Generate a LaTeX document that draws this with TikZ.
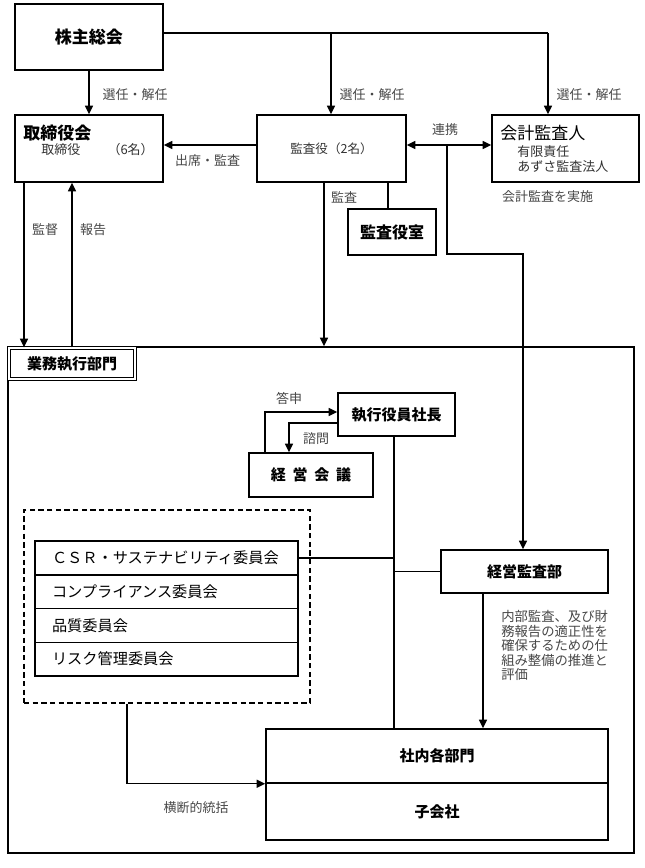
\documentclass[tikz,border=0pt]{standalone}
\usepackage{fontspec}
\setmainfont{Noto Sans CJK JP}
\usetikzlibrary{arrows.meta}
\begin{document}
\begin{tikzpicture}[x=0.75pt,y=-0.75pt,
  box/.style={draw,line width=1.1pt,inner sep=0pt,fill=white},
  conn/.style={line width=1.1pt},
  arr/.style={conn,-{Triangle[length=6.5pt,width=6pt]}},
  biarr/.style={conn,{Triangle[length=6.5pt,width=6pt]}-{Triangle[length=6.5pt,width=6pt]}},
  lbl/.style={inner sep=0pt,text=black!72,font=\fontsize{9.75pt}{11pt}\selectfont},
  bigtitle/.style={inner sep=0pt,font=\fontsize{12.75pt}{14pt}\selectfont\bfseries},
  midtitle/.style={font=\fontsize{11.25pt}{13pt}\selectfont\bfseries},
  committee/.style={draw,line width=1.1pt,inner ysep=0pt,inner xsep=12.75pt,
    minimum height=25.3pt,text width=171.75pt,align=left,
    font=\fontsize{11.4pt}{13pt}\selectfont}
]
\useasboundingbox[fill=white] (0,0) rectangle (645,868);

% top level boxes
\node[box,minimum width=111pt,minimum height=49.5pt,bigtitle] (kabu) at (89,37) {株主総会};
\node[box,minimum width=111pt,minimum height=50.25pt] (tori) at (89,148.5) {};
\node[bigtitle,anchor=west] (toritit) at (23,133) {取締役会};
\node[lbl,anchor=west,text=black!80] (torisub) at (41,150) {取締役};
\node[lbl,anchor=east,text=black!80] (torinum) at (154,150) {（6名）};

\node[box,minimum width=111.75pt,minimum height=50.25pt,
  font=\fontsize{9.4pt}{11pt}\selectfont,text=black!80] (kansa) at (331.5,148.5) {監査役（2名）};

\node[box,minimum width=110.25pt,minimum height=50.25pt] (kaikei) at (565.5,148.5) {};
\node[bigtitle,anchor=west,font=\fontsize{12.75pt}{14pt}\selectfont\mdseries] (kaikeitit) at (500,133) {会計監査人};
\node[lbl,anchor=west,text=black!80] (kaikei1) at (517,152) {有限責任};
\node[lbl,anchor=west,text=black!80] (kaikei2) at (517,167) {あずさ監査法人};

\node[box,minimum width=66pt,minimum height=34.5pt,font=\fontsize{12pt}{14pt}\selectfont\bfseries] (kansashitsu) at (392,232) {監査役室};

% container
\node[draw,line width=1.1pt,inner sep=0pt,minimum width=469.5pt,minimum height=379.5pt] (cont) at (321,600) {};
\node[draw,double,line width=0.75pt,double distance=1.3pt,fill=white,inner sep=0pt,
  minimum width=95pt,minimum height=23.5pt,midtitle] (gyomu) at (72,363.5) {業務執行部門};

% executive
\node[box,minimum width=87.75pt,minimum height=32.25pt,midtitle] (shacho) at (396.5,414.5) {執行役員社長};
\node[box,minimum width=93pt,minimum height=33pt,midtitle] (kaigi) at (311,475) {経\hspace{0.45em}営\hspace{0.45em}会\hspace{0.45em}議};

% committees
\node[draw,dashed,line width=1.1pt,inner sep=0pt,minimum width=214.5pt,minimum height=144.75pt,
  dash pattern=on 4pt off 2.5pt] (dash) at (167,606.5) {};
\node[committee] (csr) at (166.5,557.9) {ＣＳＲ・サステナビリティ委員会};
\node[committee] (comp) at (166.5,591.6) {コンプライアンス委員会};
\node[committee] (hinshitsu) at (166.5,625.4) {品質委員会};
\node[committee] (risk) at (166.5,659.1) {リスク管理委員会};

\node[box,minimum width=125.25pt,minimum height=32.25pt,midtitle] (keieikansa) at (524.5,571.5) {経営監査部};

\node[box,minimum width=256.5pt,minimum height=40.5pt,midtitle] (shanai) at (437,756) {社内各部門};
\node[box,minimum width=256.5pt,minimum height=42.75pt,midtitle] (kogaisha) at (437,811.5) {子会社};

% coordinates
\coordinate (top1) at (331,33);
\coordinate (top2) at (548,33);
\coordinate (midy) at (0,145);
\coordinate (j1) at (447,145);
\coordinate (j2) at (447,254);
\coordinate (j3) at (523,254);
\coordinate (kx1) at (324,0);
\coordinate (kx2) at (388,0);
\coordinate (tx1) at (24,0);
\coordinate (tosin) at (265,412);
\coordinate (simon) at (289,423);
\coordinate (vx) at (394,0);
\coordinate (kx3) at (483,0);
\coordinate (dx) at (127,0);

% connectors
\draw[arr] (kabu.south) -- (tori.north);
\draw[conn] (kabu.east |- top2) -- (top2);
\draw[arr] (top2) -- (top2 |- kaikei.north);
\draw[arr] (top1) -- (top1 |- kansa.north);
\draw[arr] (kansa.west |- midy) -- (tori.east |- midy);
\draw[biarr] (kansa.east |- midy) -- (kaikei.west |- midy);
\draw[arr] (j1) -- (j2) -- (j3) -- (j3 |- keieikansa.north);
\draw[arr] (kansa.south -| kx1) -- (cont.north -| kx1);
\draw[conn] (kansa.south -| kx2) -- (kansashitsu.north -| kx2);
\draw[arr] (tori.south -| tx1) -- (gyomu.north -| tx1);
\draw[arr] (gyomu.north) -- (tori.south -| gyomu.north);
\draw[arr] (kaigi.north -| tosin) |- (shacho.west |- tosin);
\draw[arr] (shacho.west |- simon) -| (kaigi.north -| simon);
\draw[conn] (shacho.south -| vx) -- (shanai.north -| vx);
\draw[conn] (csr.east) -- (csr.east -| vx);
\draw[conn] (keieikansa.west) -- (keieikansa.west -| vx);
\draw[arr] (keieikansa.south -| kx3) -- (shanai.north -| kx3);
\draw[arr] (dash.south -| dx) |- (shanai.south west);

% labels
\node[lbl] (l1) at (135,95) {選任・解任};
\node[lbl] (l2) at (372,95) {選任・解任};
\node[lbl] (l3) at (589,95) {選任・解任};
\node[lbl] (l4) at (207.5,161) {出席・監査};
\node[lbl] (l5) at (445,130) {連携};
\node[lbl] (l6) at (344,197) {監査};
\node[lbl] (l7) at (547.5,197) {会計監査を実施};
\node[lbl] (l8) at (45,230) {監督};
\node[lbl] (l9) at (93,230) {報告};
\node[lbl] (l10) at (289,398) {答申};
\node[lbl] (l11) at (316,439) {諮問};
\node[lbl,anchor=north west,align=left,font=\fontsize{10pt}{10.9pt}\selectfont] (l12) at (501,610)
  {内部監査、及び財\\務報告の適正性を\\確保するための仕\\組み整備の推進と\\評価};
\node[lbl] (l13) at (196,808) {横断的統括};
\end{tikzpicture}
\end{document}
